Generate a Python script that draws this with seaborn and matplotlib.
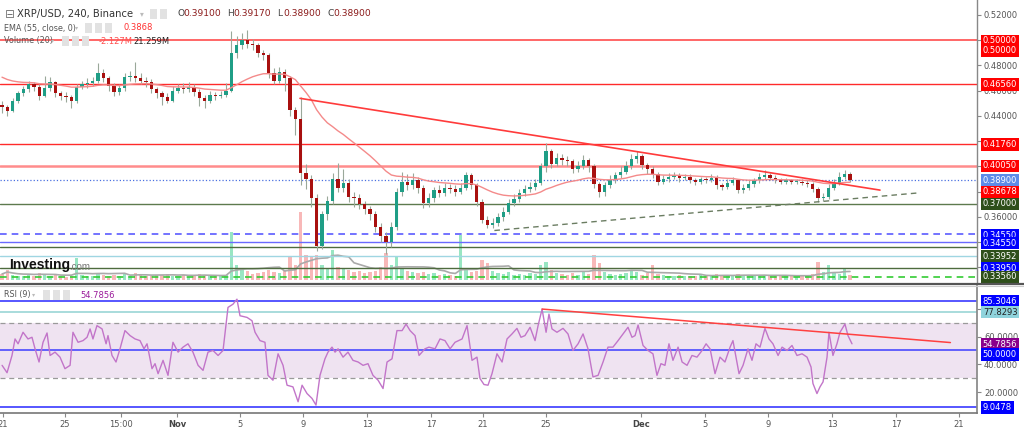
import numpy as np
import pandas as pd
import matplotlib
matplotlib.use("Agg")
import matplotlib.pyplot as plt
import seaborn as sns
from matplotlib.transforms import blended_transform_factory
from matplotlib.lines import Line2D

sns.set_theme(style="white")
plt.rcParams['font.family'] = ['DejaVu Sans']

# ---------------- data (8h bars) ----------------
first_open = 0.449
closes = [0.447, 0.444, 0.452, 0.458, 0.461, 0.465, 0.463, 0.456, 0.462, 0.467,
          0.458, 0.456, 0.455, 0.452, 0.463, 0.465, 0.466, 0.468, 0.474, 0.470,
          0.464, 0.459, 0.462, 0.471, 0.472, 0.470, 0.468, 0.467, 0.461, 0.458,
          0.455, 0.452, 0.460, 0.462, 0.461, 0.463, 0.459, 0.454, 0.452, 0.457,
          0.456, 0.457, 0.460, 0.490, 0.496, 0.500, 0.497, 0.496, 0.490, 0.488,
          0.474, 0.468, 0.475, 0.470, 0.445, 0.438, 0.395, 0.390, 0.375, 0.337,
          0.362, 0.373, 0.390, 0.383, 0.387, 0.376, 0.375, 0.370, 0.366, 0.362,
          0.352, 0.345, 0.340, 0.352, 0.380, 0.388, 0.385, 0.389, 0.383, 0.371,
          0.375, 0.381, 0.379, 0.383, 0.382, 0.380, 0.383, 0.393, 0.385, 0.372,
          0.358, 0.354, 0.355, 0.360, 0.364, 0.371, 0.374, 0.379, 0.382, 0.384,
          0.387, 0.400, 0.412, 0.402, 0.407, 0.405, 0.404, 0.398, 0.400, 0.405,
          0.400, 0.386, 0.380, 0.385, 0.389, 0.393, 0.396, 0.400, 0.406, 0.408,
          0.401, 0.398, 0.394, 0.388, 0.390, 0.392, 0.393, 0.391, 0.392, 0.389,
          0.388, 0.390, 0.389, 0.391, 0.385, 0.384, 0.387, 0.389, 0.381, 0.383,
          0.386, 0.389, 0.392, 0.393, 0.391, 0.389, 0.388, 0.389, 0.388, 0.388,
          0.387, 0.386, 0.382, 0.375, 0.376, 0.383, 0.387, 0.392, 0.394, 0.389]
highs = [0.452, 0.449, 0.454, 0.460, 0.464, 0.468, 0.467, 0.465, 0.472, 0.471,
         0.468, 0.460, 0.459, 0.457, 0.465, 0.468, 0.470, 0.471, 0.482, 0.477,
         0.472, 0.466, 0.465, 0.474, 0.476, 0.483, 0.474, 0.471, 0.469, 0.463,
         0.460, 0.458, 0.464, 0.465, 0.466, 0.467, 0.465, 0.461, 0.457, 0.460,
         0.459, 0.460, 0.466, 0.507, 0.503, 0.506, 0.508, 0.501, 0.498, 0.492,
         0.490, 0.478, 0.479, 0.477, 0.472, 0.447, 0.455, 0.402, 0.393, 0.378,
         0.365, 0.377, 0.395, 0.403, 0.398, 0.390, 0.380, 0.378, 0.373, 0.369,
         0.365, 0.355, 0.348, 0.356, 0.383, 0.396, 0.394, 0.395, 0.392, 0.385,
         0.379, 0.384, 0.385, 0.387, 0.386, 0.385, 0.387, 0.396, 0.395, 0.387,
         0.374, 0.361, 0.359, 0.363, 0.368, 0.374, 0.378, 0.382, 0.385, 0.388,
         0.390, 0.403, 0.419, 0.414, 0.411, 0.410, 0.408, 0.406, 0.404, 0.409,
         0.407, 0.402, 0.388, 0.388, 0.393, 0.396, 0.400, 0.404, 0.410, 0.412,
         0.410, 0.403, 0.400, 0.396, 0.393, 0.395, 0.396, 0.395, 0.394, 0.394,
         0.391, 0.392, 0.392, 0.394, 0.393, 0.387, 0.390, 0.392, 0.390, 0.386,
         0.389, 0.391, 0.395, 0.397, 0.395, 0.393, 0.391, 0.391, 0.390, 0.390,
         0.390, 0.389, 0.388, 0.384, 0.379, 0.386, 0.390, 0.396, 0.397, 0.396]
lows = [0.442, 0.440, 0.443, 0.450, 0.456, 0.459, 0.460, 0.453, 0.455, 0.460,
        0.455, 0.453, 0.451, 0.446, 0.450, 0.461, 0.462, 0.464, 0.466, 0.467,
        0.460, 0.456, 0.457, 0.460, 0.468, 0.467, 0.465, 0.463, 0.458, 0.454,
        0.449, 0.450, 0.451, 0.458, 0.458, 0.459, 0.456, 0.448, 0.446, 0.450,
        0.453, 0.454, 0.455, 0.459, 0.486, 0.493, 0.494, 0.492, 0.487, 0.484,
        0.470, 0.465, 0.466, 0.460, 0.440, 0.425, 0.385, 0.382, 0.368, 0.333,
        0.335, 0.358, 0.370, 0.380, 0.380, 0.372, 0.368, 0.366, 0.362, 0.358,
        0.348, 0.340, 0.331, 0.336, 0.350, 0.377, 0.381, 0.382, 0.379, 0.367,
        0.368, 0.372, 0.376, 0.377, 0.379, 0.377, 0.378, 0.381, 0.382, 0.369,
        0.355, 0.351, 0.351, 0.353, 0.357, 0.362, 0.369, 0.372, 0.377, 0.380,
        0.381, 0.385, 0.396, 0.399, 0.400, 0.401, 0.400, 0.395, 0.396, 0.398,
        0.396, 0.383, 0.376, 0.377, 0.383, 0.387, 0.391, 0.394, 0.398, 0.403,
        0.398, 0.394, 0.391, 0.385, 0.386, 0.388, 0.390, 0.388, 0.389, 0.387,
        0.385, 0.386, 0.387, 0.388, 0.382, 0.381, 0.382, 0.385, 0.379, 0.379,
        0.381, 0.384, 0.387, 0.390, 0.389, 0.387, 0.386, 0.386, 0.386, 0.386,
        0.385, 0.384, 0.380, 0.372, 0.373, 0.374, 0.381, 0.385, 0.390, 0.388]
volumes = [12, 20, 10, 8, 9, 11, 8, 14, 10, 9,
           12, 8, 7, 9, 44, 10, 8, 9, 14, 10,
           8, 10, 9, 12, 8, 14, 10, 8, 9, 11,
           10, 12, 9, 8, 10, 7, 9, 12, 10, 8,
           9, 8, 10, 96, 30, 22, 18, 12, 14, 16,
           20, 16, 14, 18, 46, 30, 136, 50, 46, 50,
           30, 22, 60, 26, 24, 20, 16, 18, 14, 16,
           18, 26, 54, 30, 48, 22, 18, 16, 14, 16,
           12, 14, 10, 12, 10, 9, 90, 24, 16, 18,
           40, 34, 18, 14, 12, 16, 10, 12, 10, 14,
           12, 30, 36, 20, 14, 12, 10, 14, 10, 16,
           12, 50, 34, 16, 12, 10, 12, 14, 18, 16,
           10, 14, 30, 12, 10, 8, 9, 10, 8, 9,
           8, 10, 9, 8, 12, 10, 9, 8, 12, 10,
           9, 8, 10, 9, 8, 10, 8, 9, 8, 7,
           8, 9, 12, 36, 16, 30, 14, 12, 24, 10]
ema_seed = 0.4725

rsi_points = [(0.13, 39.3), (0.44, 34), (0.75, 46.4), (0.94, 58.3), (1.13, 54.8), (1.44, 63.1),
              (1.75, 58.3), (2.0, 59.5), (2.19, 51.2), (2.44, 41.7), (2.69, 55.9), (2.94, 62.6),
              (3.13, 46.4), (3.44, 48.8), (3.75, 45.2), (4.06, 36.9), (4.38, 39.3), (4.56, 63.1),
              (4.88, 55.9), (5.19, 57.1), (5.44, 59.5), (5.63, 65.5), (5.81, 58.3), (6.06, 67.9),
              (6.38, 65.5), (6.63, 54.8), (6.75, 60.7), (7.0, 46.4), (7.25, 41.7), (7.5, 51.2),
              (7.81, 64.3), (8.13, 60.7), (8.44, 58.3), (8.75, 57.1), (9.0, 51.2), (9.19, 54.8),
              (9.5, 36.9), (9.69, 40.5), (9.88, 33.3), (10.19, 42.9), (10.5, 32.1), (10.81, 55.9),
              (11.13, 48.8), (11.44, 52.4), (11.75, 54.8), (12.06, 48.8), (12.38, 39.3), (12.69, 35.7),
              (13.0, 48.8), (13.31, 50.0), (13.63, 46.4), (13.94, 50.0), (14.25, 81.0), (14.56, 83.3),
              (14.81, 86.9), (15.0, 75.0), (15.44, 73.8), (15.75, 71.4), (15.94, 63.1), (16.25, 57.1),
              (16.56, 55.9), (16.75, 32.1), (17.06, 28.6), (17.38, 47.6), (17.69, 39.3), (17.94, 25.0),
              (18.31, 23.8), (18.63, 13.1), (18.88, 25.0), (19.19, 19.0), (19.5, 15.5), (19.75, 10.7),
              (20.0, 32.1), (20.31, 44.0), (20.5, 48.8), (20.75, 52.4), (20.94, 48.8), (21.13, 51.2),
              (21.44, 45.2), (21.75, 48.8), (22.06, 42.9), (22.38, 41.7), (22.69, 39.3), (23.0, 40.5),
              (23.31, 32.1), (23.63, 28.6), (23.94, 22.6), (24.19, 41.7), (24.5, 44.0), (24.81, 64.3),
              (25.13, 64.3), (25.38, 69.0), (25.63, 64.3), (25.94, 60.7), (26.19, 46.4), (26.56, 51.2),
              (26.81, 52.4), (27.19, 51.2), (27.5, 58.3), (27.81, 57.1), (28.13, 51.2), (28.44, 55.9),
              (28.88, 58.3), (29.19, 67.9), (29.5, 42.9), (29.81, 45.2), (30.0, 29.8), (30.25, 25.5),
              (30.5, 25.0), (30.75, 33.3), (31.06, 47.6), (31.38, 41.7), (31.69, 58.3), (32.0, 61.9),
              (32.31, 65.9), (32.56, 59.5), (32.81, 60.7), (33.13, 66.7), (33.44, 57.1), (33.63, 67.9),
              (33.88, 79.8), (34.13, 63.1), (34.31, 76.2), (34.5, 65.5), (34.81, 63.1), (35.19, 65.9),
              (35.5, 61.9), (35.81, 50.0), (36.13, 54.8), (36.44, 61.9), (36.75, 51.2), (37.06, 31.0),
              (37.38, 32.1), (37.69, 41.7), (38.0, 52.4), (38.31, 52.4), (38.63, 57.1), (38.94, 61.9),
              (39.25, 66.7), (39.5, 59.5), (39.69, 60.7), (39.88, 68.3), (40.19, 53.6), (40.5, 50.0),
              (40.81, 47.6), (41.06, 32.1), (41.31, 40.5), (41.56, 39.3), (41.81, 54.8), (42.06, 42.9),
              (42.38, 52.4), (42.63, 41.7), (42.94, 39.3), (43.25, 46.4), (43.56, 45.2), (43.88, 50.0),
              (44.13, 54.8), (44.38, 51.2), (44.69, 33.3), (45.0, 45.2), (45.31, 41.7), (45.63, 52.4),
              (45.81, 57.1), (46.19, 33.3), (46.44, 39.3), (46.75, 51.2), (47.0, 42.9), (47.25, 54.8),
              (47.5, 52.4), (47.81, 65.9), (48.06, 58.3), (48.31, 54.8), (48.63, 46.4), (48.88, 52.4),
              (49.19, 50.0), (49.5, 53.6), (49.81, 46.4), (50.13, 47.6), (50.44, 45.2), (50.69, 38.1),
              (50.81, 26.2), (51.06, 19.0), (51.25, 23.8), (51.44, 27.4), (51.69, 45.2), (51.81, 63.1),
              (52.06, 46.4), (52.31, 54.8), (52.5, 63.1), (52.81, 69.0), (53.0, 60.7), (53.25, 54.8)]

tick_days = [0.19, 4.06, 7.56, 11.06, 15.0, 18.94, 22.94, 26.94, 30.19, 34.13,
             40.06, 44.06, 48.0, 52.0, 56.0, 59.94]
tick_labels = ["21", "25", "15:00", "Nov", "5", "9", "13", "17", "21", "25",
               "Dec", "5", "9", "13", "17", "21"]

# right-axis ticks (labels left blank where the tags cover them)
price_ticks = [0.32, 0.34, 0.36, 0.38, 0.40, 0.42, 0.44, 0.46, 0.48, 0.50, 0.52]
price_tick_labels = ["", "", "0.36000", "", "", "", "0.44000", "0.46000", "0.48000", "", "0.52000"]
rsi_ticks = [20, 40, 60, 80]
rsi_tick_labels = ["20.0000", "40.0000", "60.0000", ""]

# horizontal levels drawn on the price pane
level_prices = [0.5000, 0.4656, 0.4176, 0.4005, 0.3700, 0.3465, 0.3402, 0.3362, 0.3291, 0.3196, 0.3125]
level_colors = ["#ff5a5a", "#ff2a2a", "#ff2a2a", "#ff8c8c", "#5d7a4e", "#5b5bff", "#6a6aff",
                "#4e6b3e", "#9fd6e2", "#4e6b3e", "#33cc33"]
level_styles = ["-", "-", "-", "-", "-", "--", "-", "-", "-", "-", "--"]
level_widths = [1.3, 1.0, 1.0, 1.8, 1.0, 1.2, 1.0, 1.0, 1.0, 1.0, 1.2]
last_price = 0.389

# right-axis price tags: (label, position, face colour)
price_tags = [("0.50000", 0.4995, "#ff0000"), ("0.50000", 0.4915, "#ff0000"),
              ("0.46560", 0.4650, "#ff0000"), ("0.41760", 0.4174, "#ff0000"),
              ("0.40050", 0.4004, "#ff0000"), ("0.38900", 0.3893, "#5d8be8"),
              ("0.38678", 0.3798, "#ff0000"), ("0.37000", 0.3703, "#2e4f1a"),
              ("0.34550", 0.3457, "#0000ff"), ("0.34550", 0.3394, "#0000ff"),
              ("0.33952", 0.3291, "#2e4f1a"), ("0.33950", 0.3196, "#0000ff"),
              ("0.33560", 0.3125, "#2e4f1a")]
rsi_levels = [85.3046, 77.8293, 50.0, 9.0478]
rsi_level_colors = ["#3a3aff", "#9ad6d6", "#4a4aff", "#3a3aff"]
rsi_tags = [("85.3046", 85.3, "#0000ff", "white"), ("77.8293", 77.6, "#8fd3dc", "#222222"),
            ("54.7856", 54.6, "#8b008b", "white"), ("50.0000", 47.0, "#0000ff", "white"),
            ("9.0478", 9.05, "#0000ff", "white")]

# trend lines (day, value)
price_trend = [(18.75, 0.4540), (55.0, 0.3813)]
support_trend = [(30.9, 0.3493), (57.5, 0.3792)]
rsi_trend = [(33.88, 79.8), (59.4, 55.7)]

# ---------------- derived series ----------------
n = len(closes)
days = np.arange(n) / 3 + 0.125
opens = [first_open] + closes[:-1]
df = pd.DataFrame({"day": days, "open": opens, "high": highs, "low": lows,
                   "close": closes, "volume": volumes})
df["up"] = df["close"] >= df["open"]
ema = pd.Series([ema_seed] + closes).ewm(span=28, adjust=False).mean().iloc[1:].values
df["ema"] = ema
df["vol_ma"] = df["volume"].rolling(10, min_periods=1).mean()
rsi_df = pd.DataFrame(rsi_points, columns=["day", "rsi"])

# ---------------- figure ----------------
W, H = 1024, 429
fig = plt.figure(figsize=(W / 100, H / 100), dpi=100)
fig.patch.set_facecolor("white")
xr = 977 / W
ax = fig.add_axes([0, 1 - 283 / H, xr, 283 / H])
axr = fig.add_axes([0, 1 - 413 / H, xr, 127 / H], sharex=ax)
axv = ax.twinx()
ax.set_zorder(axv.get_zorder() + 1)
ax.patch.set_visible(False)

ylo, yhi = 0.30772, 0.53188
ax.set_ylim(ylo, yhi)
ax.set_xlim(0, 977 / 16)
axv.set_ylim(-6, 560)
axr.set_ylim(5.0, 96.4)

# volume bars
vcol = np.where(df["up"], "#7fe0b4", "#f7a6a6")
axv.bar(df["day"], df["volume"], width=0.2, color=vcol, alpha=0.8, linewidth=0)
sns.lineplot(x=df["day"], y=df["vol_ma"], ax=axv, color="#aaaaaa", lw=1.2, estimator=None)
axv.axis("off")

# horizontal levels
for p, c, ls, lw in zip(level_prices, level_colors, level_styles, level_widths):
    ax.axhline(p, color=c, ls=ls, lw=lw, zorder=1, dashes=(4, 3) if ls == "--" else (None, None))
ax.axhline(last_price, color="#4a70e0", ls=":", lw=0.9, zorder=1)

# candles
ax.vlines(df["day"], df["low"], df["high"], color="#9aa89a", lw=0.8, zorder=3)
body_lo = np.minimum(df["open"], df["close"])
body_h = np.maximum(np.abs(df["close"] - df["open"]), 0.0007)
ccol = np.where(df["up"], "#1f9e86", "#a8100f")
ax.bar(df["day"], body_h, bottom=body_lo, width=0.2, color=ccol, linewidth=0, zorder=4)

# EMA
sns.lineplot(x=df["day"], y=df["ema"], ax=ax, color="#f48a8a", lw=1.0, estimator=None, zorder=5)

# trend lines
(tx0, ty0), (tx1, ty1) = price_trend
ax.plot([tx0, tx1], [ty0, ty1], color="#ff3b3b", lw=1.2, zorder=5)
(sx0, sy0), (sx1, sy1) = support_trend
ax.plot([sx0, sx1], [sy0, sy1], color="#6b7d62", lw=1.0, ls=(0, (4, 3)), zorder=5)

# price axis
for s in ["top", "left", "bottom"]:
    ax.spines[s].set_visible(False)
ax.spines["right"].set_color("#888888")
ax.spines["right"].set_linewidth(1.0)
ax.yaxis.tick_right()
ax.set_yticks(price_ticks)
ax.set_yticklabels(price_tick_labels)
ax.tick_params(axis="y", right=True, length=3, width=0.8, color="#888888",
               labelsize=6, labelcolor="#555555", pad=2)
ax.tick_params(axis="x", bottom=False, labelbottom=False)
ax.set_xlabel("")
ax.set_ylabel("")

tr = blended_transform_factory(ax.transAxes, ax.transData)
for txt, y, fc in price_tags:
    ax.text(1.006, y, txt, transform=tr, fontsize=6, color="white", va="center", ha="left",
            bbox=dict(boxstyle="square,pad=0.2", fc=fc, ec="none"), clip_on=False, zorder=10)

# RSI pane
axr.axhspan(30, 70, color="#efe3f1", zorder=0, lw=0)
axr.axhline(70, color="#9a9a9a", ls=(0, (4, 3)), lw=0.9)
axr.axhline(30, color="#9a9a9a", ls=(0, (4, 3)), lw=0.9)
for v, c in zip(rsi_levels, rsi_level_colors):
    axr.axhline(v, color=c, lw=1.2)
sns.lineplot(data=rsi_df, x="day", y="rsi", ax=axr, color="#c275c9", lw=1.0, estimator=None, sort=False)
(rx0, ry0), (rx1, ry1) = rsi_trend
axr.plot([rx0, rx1], [ry0, ry1], color="#ff4040", lw=1.1)
for s in ["top", "left"]:
    axr.spines[s].set_visible(False)
axr.spines["right"].set_color("#888888")
axr.spines["bottom"].set_color("#777777")
axr.spines["bottom"].set_linewidth(1.2)
axr.yaxis.tick_right()
axr.set_yticks(rsi_ticks)
axr.set_yticklabels(rsi_tick_labels)
axr.tick_params(axis="y", right=True, length=3, width=0.8, color="#888888",
                labelsize=6, labelcolor="#555555", pad=2)
axr.set_xticks(tick_days)
axr.set_xticklabels(tick_labels)
axr.tick_params(axis="x", bottom=True, length=3, width=0.8, color="#888888",
                labelsize=6, labelcolor="#555555", pad=2)
for lab in axr.get_xticklabels():
    if lab.get_text() in ("Nov", "Dec"):
        lab.set_fontweight("bold")
        lab.set_color("#444444")
axr.set_xlabel("")
axr.set_ylabel("")
trr = blended_transform_factory(axr.transAxes, axr.transData)
for txt, y, fc, tc in rsi_tags:
    axr.text(1.006, y, txt, transform=trr, fontsize=6, color=tc, va="center", ha="left",
             bbox=dict(boxstyle="square,pad=0.2", fc=fc, ec="none"), clip_on=False, zorder=10)

# pane separator
for yy, c, lw in [(283.5, "#555555", 1.6), (286, "#cccccc", 0.8)]:
    fig.add_artist(Line2D([0, 1], [1 - yy / H, 1 - yy / H], color=c, lw=lw, transform=fig.transFigure))


def ft(xp, yp, s, **kw):
    fig.text(xp / W, 1 - yp / H, s, va="center", ha="left", **kw)


def icons(xp, yp, k):
    for i in range(k):
        ft(xp + i * 10, yp, " ", fontsize=5,
           bbox=dict(boxstyle="square,pad=0.35", fc="#e2e2e2", ec="none"))


# legend header
ft(5, 14, "⊟", fontsize=8.5, color="#777777")
ft(17, 14, "XRP/USD, 240, Binance", fontsize=7.2, color="#333333")
ft(140, 14, "▾", fontsize=5.5, color="#bbbbbb")
icons(152, 14, 2)
for xp, key, val in [(177, "O", "0.39100"), (227, "H", "0.39170"), (277, "L", "0.38900"), (327, "C", "0.38900")]:
    ft(xp, 14, key, fontsize=6.6, color="#444444")
    ft(xp + 6, 14, val, fontsize=6.6, color="#8b1a1a")
ft(4, 28, "EMA (55, close, 0)", fontsize=5.8, color="#555555")
ft(75, 28, "▾", fontsize=4.5, color="#bbbbbb")
icons(87, 28, 3)
ft(123, 28, "0.3868", fontsize=6, color="#ff3030")
ft(4, 41, "Volume (20)", fontsize=5.8, color="#555555")
ft(51, 41, "▾", fontsize=4.5, color="#bbbbbb")
icons(64, 41, 3)
ft(99, 41, "-2.127M", fontsize=6, color="#ff5050")
ft(133, 41, "21.259M", fontsize=6, color="#222222")
ft(4, 295, "RSI (9)", fontsize=5.8, color="#555555")
ft(32, 295, "▾", fontsize=4.5, color="#bbbbbb")
icons(45, 295, 3)
ft(80, 295, "54.7856", fontsize=6, color="#9b1b9b")

# watermark
ft(9, 265, "Investing", fontsize=10, fontweight="bold", color="#111111", family="Liberation Sans")
ft(69, 267, ".com", fontsize=7, color="#777777", family="Liberation Sans")

fig.savefig("out.png", dpi=100, facecolor="white")
